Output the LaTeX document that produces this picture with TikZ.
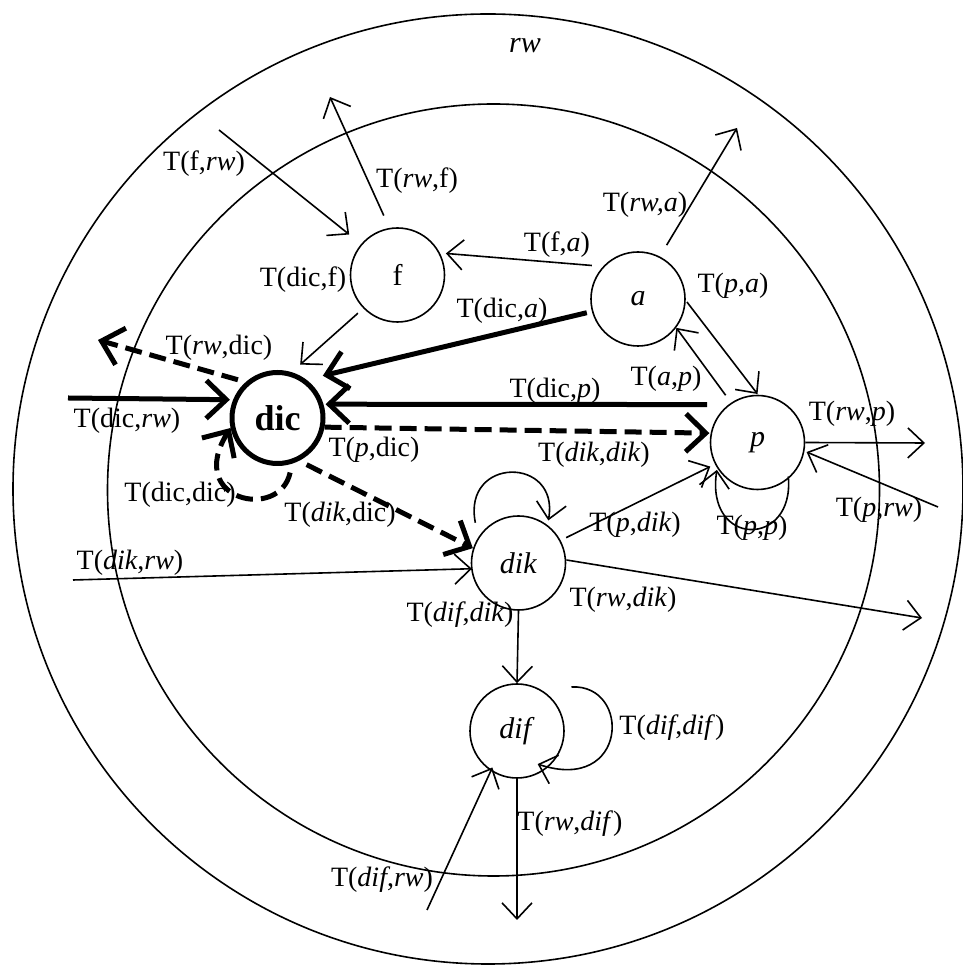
\documentclass[tikz,border=0pt]{standalone}
\usepackage{fontspec}
\setmainfont{Liberation Serif}
\usetikzlibrary{arrows.meta,calc}
\begin{document}
\begin{tikzpicture}[x=1pt,y=1pt,
  st/.style={circle,draw,line width=1.6pt,minimum size=94pt,inner sep=0pt,font=\fontsize{30}{36}\selectfont},
  lbl/.style={inner sep=0pt,font=\fontsize{28}{34}\selectfont},
  tarr/.style={line width=1.6pt,-{Straight Barb[length=16pt,width=30pt]}},
  karr/.style={line width=5pt,-{Straight Barb[length=20pt,width=38pt]}},
  dsh/.style={dash pattern=on 17pt off 8pt}
]
\useasboundingbox (0,0) rectangle (963,966);
\draw[line width=1.6pt] (488,477) circle[radius=475];
\draw[line width=1.6pt] (493.5,476) circle[radius=386];

\node[st] (f) at (397.5,691) {f};
\node[st] (a) at (638,667) {\textit{a}};
\node[st,line width=5pt,minimum size=91pt,font=\fontsize{36}{40}\selectfont\bfseries] (dic) at (277.5,548) {dic};
\node[st] (p) at (757.5,523.5) {\textit{p}};
\node[st] (dik) at (518.5,403) {\textit{dik}};
\node[st] (dif) at (517,235) {\textit{dif}};

\coordinate (fIn) at (219,836);
\coordinate (fOut) at (330,869);
\coordinate (aOut) at (737,838);
\coordinate (dicOut) at (98,626);
\coordinate (dicIn) at (68,568);
\coordinate (dikIn) at (73,386);
\coordinate (pOut) at (925,523);
\coordinate (pIn) at (938,459);
\coordinate (dikOut) at (922,348);
\coordinate (difOut) at (517,46);
\coordinate (difIn) at (427,56);

\draw[tarr] (fIn) -- ($(f)+(140:63)$);
\draw[tarr] ($(f)+(103:61)$) -- (fOut);
\draw[tarr] ($(f)+(224:55)$) -- ($(dic)+(67:58)$);
\draw[tarr] ($(a)+(144:57)$) -- ($(f)+(24:53)$);
\draw[tarr] ($(a)+(62:61)$) -- (aOut);
\draw[karr] ($(a)+(195:53)$) -- ($(dic)+(43:62)$);
\draw[tarr] ($(a)+(-3.5:49)$) -- ($(p)+(90:48.5)$);
\draw[tarr] ($(p)+(124:57)$) -- ($(a)+(-37:48)$);
\draw[karr] ($(p)+(143:63)$) -- ($(dic)+(16:50)$);
\draw[karr,dsh] ($(dic)+(136:55)$) -- (dicOut);
\draw[karr] (dicIn) -- ($(dic)+(159:51)$);
\draw[karr,dsh] ($(dic)+(-11:48)$) -- ($(p)+(169:49)$);
\draw[karr,dsh] ($(dic)+(-77:56)$) .. controls (280,445) and (185,465) .. ($(dic)+(192:48)$);
\draw[karr,dsh] ($(dic)+(-58:55)$) -- ($(dik)+(162:48)$);
\draw[tarr] (dikIn) -- ($(dik)+(187:47)$);
\draw[tarr] ($(dik)+(137:59)$) .. controls (462,510) and (560,510) .. ($(dik)+(55:52)$);
\draw[tarr] ($(dik)+(28:54)$) -- ($(p)+(207:53)$);
\draw[tarr] ($(p)+(-48:46)$) .. controls (795,418) and (705,418) .. ($(p)+(214:49)$);
\draw[tarr] (p.east) -- (pOut);
\draw[tarr] (pIn) -- ($(p)+(-11:50)$);
\draw[tarr] ($(dik)+(3.6:48)$) -- (dikOut);
\draw[tarr] (dik.south) -- (dif.north);
\draw[tarr] ($(dif)+(39:70)$) .. controls (632,282) and (628,172) .. ($(dif)+(-58:39)$);
\draw[tarr] (dif.south) -- (difOut);
\draw[tarr] (difIn) -- ($(dif)+(236:44)$);

\node[lbl,font=\fontsize{30}{36}\selectfont] (lrw) at (525,920) {\textit{rw}};
\node[lbl] (l1) at (204,802) {T(f,\textit{rw})};
\node[lbl] (l2) at (417,785) {T(\textit{rw},f)};
\node[lbl] (l3) at (303,686) {T(dic,f)};
\node[lbl] (l4) at (557,721) {T(f,\textit{a})};
\node[lbl] (l5) at (645,761) {T(\textit{rw,a})};
\node[lbl] (l6) at (502,655) {T(dic,\textit{a})};
\node[lbl] (l7) at (733,680) {T(\textit{p},\textit{a})};
\node[lbl] (l8) at (666,587) {T(\textit{a},\textit{p})};
\node[lbl] (l9) at (555,575) {T(dic,\textit{p})};
\node[lbl] (l10) at (219,618) {T(\textit{rw},dic)};
\node[lbl] (l11) at (127,545) {T(dic,\textit{rw})};
\node[lbl] (l12) at (374,516) {T(\textit{p},dic)};
\node[lbl] (l13) at (180,471) {T(dic,dic)};
\node[lbl] (l14) at (340,451) {T(\textit{dik},dic)};
\node[lbl] (l15) at (130,403) {T(\textit{dik},\textit{rw})};
\node[lbl] (l16) at (594,511) {T(\textit{dik},\textit{dik})};
\node[lbl] (l17) at (635,441) {T(\textit{p},\textit{dik})};
\node[lbl] (l18) at (752,438) {T(\textit{p},\textit{p})};
\node[lbl] (l19) at (852,552) {T(\textit{rw},\textit{p})};
\node[lbl] (l20) at (879,456) {T(\textit{p},\textit{rw})};
\node[lbl] (l21) at (623,366) {T(\textit{rw},\textit{dik})};
\node[lbl] (l22) at (460,351) {T(\textit{dif},\textit{dik})};
\node[lbl] (l23) at (672,238) {T(\textit{dif},\textit{dif})};
\node[lbl] (l24) at (570,142) {T(\textit{rw},\textit{dif})};
\node[lbl] (l25) at (382,86) {T(\textit{dif},\textit{rw})};
\end{tikzpicture}
\end{document}
